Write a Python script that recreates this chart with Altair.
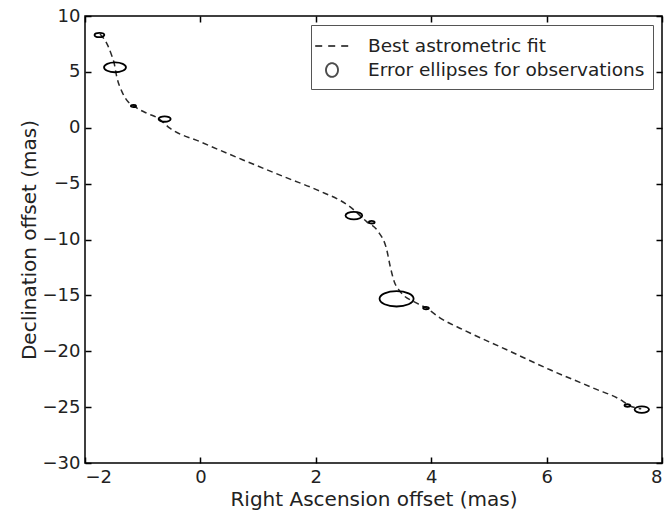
import altair as alt
import pandas as pd

# Best astrometric fit (RA, Dec offsets in mas)
fit_ra = [-1.74, -1.61, -1.54, -1.50, -1.45, -1.36, -1.28, -1.13, -0.93, -0.74,
          -0.53, -0.01, 0.74, 1.50, 2.02, 2.59, 2.88, 3.08, 3.23, 3.29,
          3.36, 3.44, 3.75, 3.91, 4.15, 4.56, 5.31, 6.06, 6.81, 7.33, 7.41, 7.64]
fit_dec = [8.39, 7.41, 6.51, 5.91, 4.57, 3.23, 2.49, 1.86, 1.30, 0.88,
           -0.04, -1.24, -2.88, -4.49, -5.56, -7.06, -8.40, -9.29, -10.93, -12.42,
           -13.77, -14.51, -15.70, -16.12, -17.01, -18.09, -19.87, -21.66, -23.30, -24.50, -24.79, -25.15]

# Observations with their RA error (full ellipse width, mas)
obs_ra = [-1.75, -1.48, -1.16, -0.62, 2.66, 2.97, 3.40, 3.91, 7.40, 7.65]
obs_dec = [8.30, 5.41, 1.95, 0.78, -7.86, -8.45, -15.31, -16.14, -24.86, -25.22]
obs_err_ra = [0.17, 0.38, 0.09, 0.21, 0.29, 0.10, 0.59, 0.10, 0.10, 0.25]

legend_labels = ["Best astrometric fit", "Error ellipses for observations"]
x_ticks = [-2, 0, 2, 4, 6, 8]
y_ticks = [-30, -25, -20, -15, -10, -5, 0, 5, 10]

FONT = "DejaVu Sans"
FS = 18
ELLIPSE = "M-1,0A1,0.45,0,1,1,1,0A1,0.45,0,1,1,-1,0Z"
LEG_DASH = "M-1.4,0L1.4,0"
LEG_CIRCLE = "M-0.5,0A0.5,0.57,0,1,1,0.5,0A0.5,0.57,0,1,1,-0.5,0Z"

fit_df = pd.DataFrame({"i": list(range(len(fit_ra))), "ra": fit_ra, "dec": fit_dec})
obs_df = pd.DataFrame({"ra": obs_ra, "dec": obs_dec, "err": obs_err_ra})
leg_df = pd.DataFrame({"label": legend_labels})

xscale = alt.Scale(domain=[-2, 8], nice=False, zero=False)
yscale = alt.Scale(domain=[-30, 10], nice=False, zero=False)

tick_common = dict(offset=-6, tickSize=6, domain=False, grid=False,
                   tickColor="black", tickWidth=1.5)

line = alt.Chart(fit_df).mark_line(
    color="#2a2a2a", strokeDash=[6, 4], strokeWidth=1.5, interpolate="monotone"
).encode(
    x=alt.X("ra:Q", scale=xscale,
            axis=alt.Axis(orient="bottom", values=x_ticks, title="Right Ascension offset (mas)",
                          labelPadding=5, titlePadding=3, **tick_common)),
    y=alt.Y("dec:Q", scale=yscale,
            axis=alt.Axis(orient="left", values=y_ticks, title="Declination offset (mas)",
                          labelPadding=5, titlePadding=3, **tick_common)),
    order="i:Q",
)

ellipses = alt.Chart(obs_df).mark_point(
    shape=ELLIPSE, filled=False, color="black", strokeWidth=1.8, opacity=1
).encode(
    x=alt.X("ra:Q", scale=xscale,
            axis=alt.Axis(orient="top", values=x_ticks, labels=False, title=None, **tick_common)),
    y=alt.Y("dec:Q", scale=yscale,
            axis=alt.Axis(orient="right", values=y_ticks, labels=False, title=None, **tick_common)),
    size=alt.Size("err:Q", scale=alt.Scale(type="pow", exponent=2, domain=[0, 1], range=[0, 3329]),
                  legend=None),
)

leg_props = dict(title=None, orient="top-right", offset=9, fillColor="white",
                 strokeColor="#555555", padding=8, labelFont=FONT, labelFontSize=18.5,
                 labelColor="#222222", labelLimit=500, symbolSize=576, symbolStrokeWidth=1.9,
                 symbolStrokeColor="black", labelOffset=23, rowPadding=1, cornerRadius=0)

legend_layer = alt.Chart(leg_df).transform_filter("false").mark_point(
    filled=False, color="black", strokeWidth=1.9
).encode(
    shape=alt.Shape("label:N", scale=alt.Scale(domain=legend_labels, range=[LEG_DASH, LEG_CIRCLE]),
                    legend=alt.Legend(**leg_props)),
    strokeDash=alt.StrokeDash("label:N", scale=alt.Scale(domain=legend_labels, range=[[7, 6], [1, 0]]),
                              legend=alt.Legend(**leg_props)),
)

chart = alt.layer(line, ellipses, legend_layer).resolve_axis(
    x="independent", y="independent"
).properties(
    width=577, height=447,
    autosize=alt.AutoSizeParams(type="none"),
    padding={"left": 85, "top": 16, "right": 7, "bottom": 47},
).configure_view(
    stroke="black", strokeWidth=1.5
).configure_axis(
    labelFont=FONT, labelFontSize=FS, labelColor="#222222",
    titleFont=FONT, titleFontSize=20, titleColor="#222222", titleFontWeight="normal",
)

chart.save("out.html", embed_options={"renderer": "svg", "actions": False})
